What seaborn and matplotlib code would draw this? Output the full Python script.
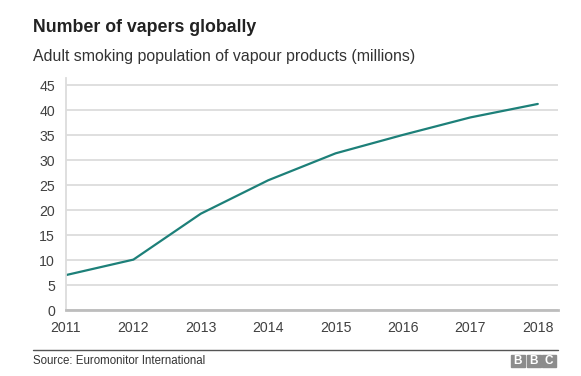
import matplotlib
matplotlib.use('Agg')
import matplotlib.pyplot as plt
import matplotlib.patches as mpatches
import seaborn as sns
import pandas as pd

# data
years = [2011, 2012, 2013, 2014, 2015, 2016, 2017, 2018]
vapers = [7.0, 10.1, 19.3, 26.0, 31.4, 35.1, 38.6, 41.3]
y_ticks = [0, 5, 10, 15, 20, 25, 30, 35, 40, 45]

title = 'Number of vapers globally'
subtitle = 'Adult smoking population of vapour products (millions)'
source = 'Source: Euromonitor International'

sns.set_style('white')
plt.rcParams['font.family'] = ['Liberation Sans', 'DejaVu Sans']

df = pd.DataFrame({'year': years, 'vapers': vapers})

fig = plt.figure(figsize=(5.81, 3.76), dpi=100)
ax = fig.add_axes([66/581, 1 - 310/376, 492/581, 232/376])

sns.lineplot(data=df, x='year', y='vapers', ax=ax, color='#1d8079', lw=1.6)

ax.set_xlim(2011, 2018.3)
ax.set_ylim(0, 46.5)
ax.set_xticks(years)
ax.set_xticklabels([str(y) for y in years])
ax.set_yticks(y_ticks)
ax.set_xlabel('')
ax.set_ylabel('')
ax.yaxis.grid(True, color='#dcdcdc', lw=1.3)
ax.set_axisbelow(True)
for s in ['top', 'right']:
    ax.spines[s].set_visible(False)
ax.spines['left'].set_color('#dcdcdc')
ax.spines['left'].set_linewidth(1.3)
ax.spines['bottom'].set_color('#bdbdbd')
ax.spines['bottom'].set_linewidth(2)
ax.tick_params(axis='both', labelsize=10.2, labelcolor='#404040')
ax.tick_params(axis='y', length=6, width=1.3, color='#dcdcdc', pad=2)
ax.tick_params(axis='x', length=0, pad=8)

fig.text(33/581, 1 - 27/376, title, fontsize=12.8, fontweight='bold', color='#222222', va='center')
fig.text(33/581, 1 - 56/376, subtitle, fontsize=11.4, color='#333333', va='center')

# footer rule, source and logo
fig.add_artist(plt.Line2D([33/581, 558/581], [1 - 350/376, 1 - 350/376], color='#555555', lw=1))
fig.text(33/581, 1 - 361/376, source, fontsize=8.3, color='#333333', va='center')
for i, letter in enumerate('BBC'):
    x0 = 511 + i * 15.5
    fig.patches.append(mpatches.Rectangle((x0/581, 1 - 367/376), 14/581, 12/376,
                                          transform=fig.transFigure, color='#8c8c8c'))
    fig.text((x0 + 7)/581, 1 - 361/376, letter, fontsize=8.5, fontweight='bold',
             color='white', ha='center', va='center')

fig.savefig('out.png', dpi=100)
